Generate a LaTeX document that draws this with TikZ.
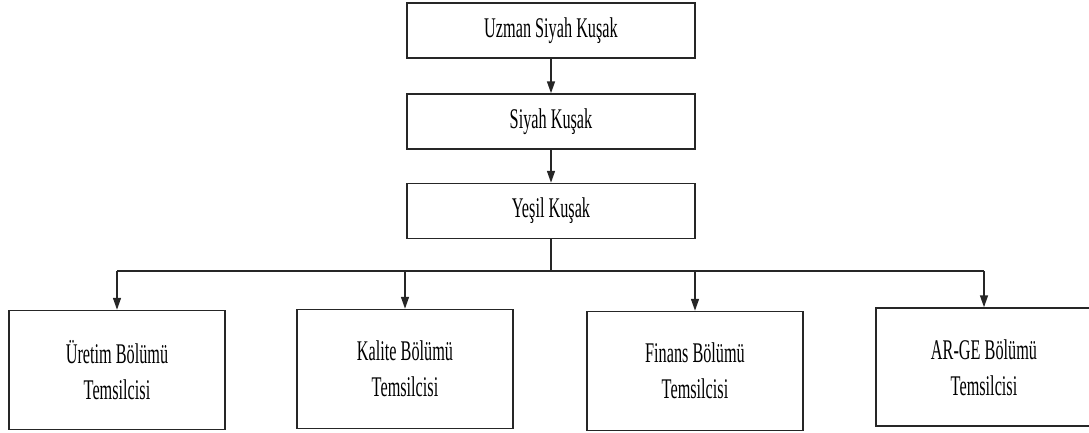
\documentclass[tikz,border=0pt]{standalone}
\usepackage{fontspec}
\usetikzlibrary{arrows.meta}
\newfontfamily\boxfont[FakeStretch=0.57]{Liberation Serif}
\begin{document}
\begin{tikzpicture}[x=1pt,y=-1pt,
  box/.style={draw=black!85, line width=1.5pt, fill=white, align=center,
    font=\boxfont\fontsize{28.5}{36}\selectfont, text=black, inner sep=0pt},
  topbox/.style={box, minimum width=288pt, minimum height=55pt},
  unitbox/.style={box, minimum width=216pt, minimum height=119pt},
  link/.style={draw=black!85, line width=1.5pt,
    -{Triangle[length=12pt,width=8pt]}},
  wire/.style={draw=black!85, line width=1.5pt}]
\useasboundingbox (0,0) rectangle (1089,432);

% chain of belts
\node[topbox] (uzman) at (551,30.5) {Uzman Siyah Kuşak};
\node[topbox] (siyah) at (551,121.5) {Siyah Kuşak};
\node[topbox] (yesil) at (551,211) {Yeşil Kuşak};

% department representatives
\node[unitbox] (uretim) at (117,370) {Üretim Bölümü\\Temsilcisi};
\node[unitbox] (kalite) at (405,369) {Kalite Bölümü\\Temsilcisi};
\node[unitbox] (finans) at (695,371) {Finans Bölümü\\Temsilcisi};
% the last box runs past the right margin
\node[box, minimum width=330pt, minimum height=118pt] (arge) at (1041,367) {};
\node[align=center, font=\boxfont\fontsize{28.5}{36}\selectfont, inner sep=0pt]
  (argetext) at (984,368) {AR-GE Bölümü\\Temsilcisi};

\draw[link] (uzman) -- (siyah);
\draw[link] (siyah) -- (yesil);

% distribution bus below the green belt
\coordinate (bus) at (551,271);
\coordinate (argetap) at (984,271);
\draw[wire] (yesil.south) -- (bus);
\draw[wire] (uretim.north |- bus) -- (argetap);
\draw[link] (uretim.north |- bus) -- (uretim.north);
\draw[link] (kalite.north |- bus) -- (kalite.north);
\draw[link] (finans.north |- bus) -- (finans.north);
\draw[link] (argetap) -- (argetap |- arge.north);
\end{tikzpicture}
\end{document}
